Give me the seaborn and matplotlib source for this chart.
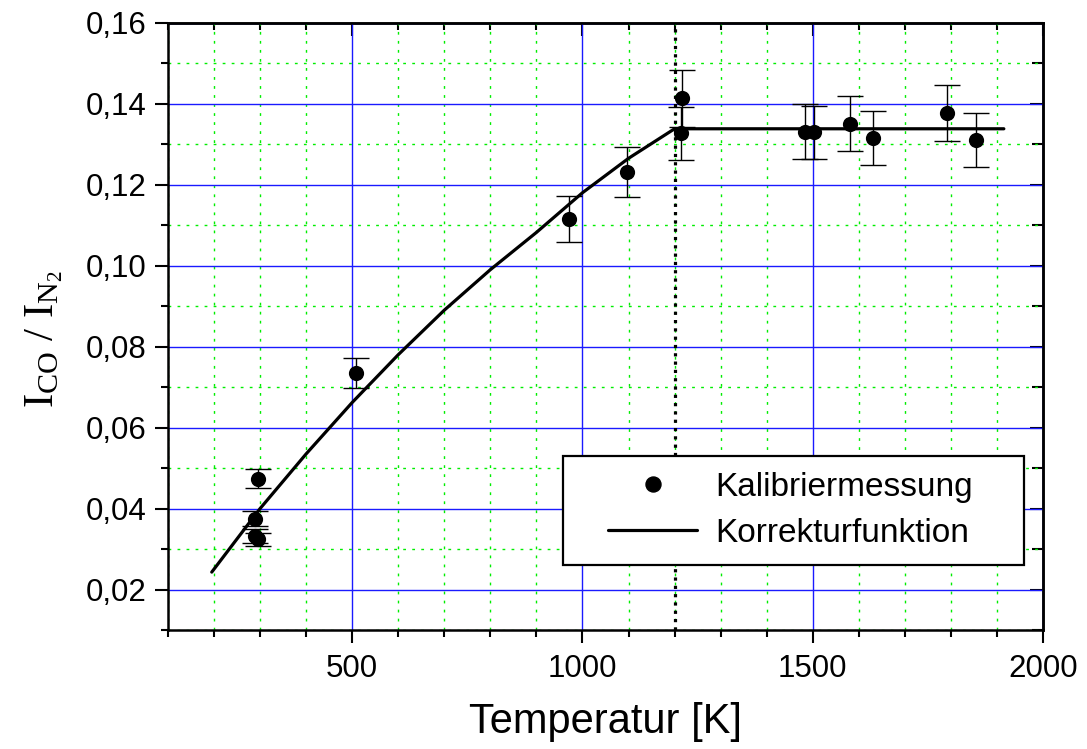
import matplotlib
matplotlib.use("Agg")
import matplotlib.pyplot as plt
from matplotlib.lines import Line2D
from matplotlib.legend_handler import HandlerLine2D
from matplotlib.ticker import MultipleLocator, FixedLocator, FixedFormatter
import seaborn as sns
import pandas as pd

# ---- data ----
temp_meas = [295, 289, 289, 295, 508, 970, 1097, 1216, 1213, 1484, 1503, 1580, 1630, 1791, 1854]
ratio_meas = [0.0474, 0.0375, 0.0333, 0.0324, 0.0735, 0.1115, 0.1231, 0.1413, 0.1327,
              0.1331, 0.1329, 0.1351, 0.1315, 0.1378, 0.1310]
ratio_err = [0.0024, 0.0019, 0.0017, 0.0016, 0.0037, 0.0056, 0.0062, 0.0071, 0.0066,
             0.0067, 0.0066, 0.0068, 0.0066, 0.0069, 0.0066]

temp_fit = [195, 300, 400, 500, 600, 700, 800, 900, 1000, 1100, 1200, 1915]
ratio_fit = [0.0243, 0.0400, 0.0535, 0.0662, 0.0780, 0.0890, 0.0990, 0.1082, 0.1180,
             0.1265, 0.1338, 0.1338]

t_switch = 1200

x_ticks = [500, 1000, 1500, 2000]
x_tick_labels = ["500", "1000", "1500", "2000"]
y_ticks = [0.02, 0.04, 0.06, 0.08, 0.10, 0.12, 0.14, 0.16]
y_tick_labels = ["0,02", "0,04", "0,06", "0,08", "0,10", "0,12", "0,14", "0,16"]

legend_labels = ["Kalibriermessung", "Korrekturfunktion"]
x_label = "Temperatur [K]"
y_label = r"$\mathrm{I_{CO}\ /\ I_{N_{2}}}$"

# ---- style ----
sns.set_theme(style="white")
plt.rcParams["font.family"] = ["Liberation Sans", "DejaVu Sans"]
plt.rcParams["mathtext.fontset"] = "custom"
plt.rcParams["mathtext.rm"] = "Liberation Serif"
plt.rcParams["mathtext.it"] = "Liberation Serif:italic"
plt.rcParams["mathtext.bf"] = "Liberation Serif:bold"
for key in ["text.color", "axes.labelcolor", "xtick.color", "ytick.color", "axes.edgecolor"]:
    plt.rcParams[key] = "black"

meas = pd.DataFrame({"T": temp_meas, "R": ratio_meas, "err": ratio_err})
fit = pd.DataFrame({"T": temp_fit, "R": ratio_fit})

fig = plt.figure(figsize=(10.87, 7.49), dpi=100)
ax = fig.add_axes([0.15455, 0.15888, 0.80497, 0.81081])

ax.set_xlim(100, 2000)
ax.set_ylim(0.01, 0.16)

# grid
ax.set_axisbelow(True)
ax.xaxis.set_major_locator(FixedLocator(x_ticks))
ax.xaxis.set_major_formatter(FixedFormatter(x_tick_labels))
ax.xaxis.set_minor_locator(MultipleLocator(100))
ax.yaxis.set_major_locator(FixedLocator(y_ticks))
ax.yaxis.set_major_formatter(FixedFormatter(y_tick_labels))
ax.yaxis.set_minor_locator(MultipleLocator(0.01))
ax.grid(which="major", color="#1a1aff", linewidth=1.0, linestyle="-")
ax.grid(which="minor", color="#00ee00", linewidth=1.0, linestyle=(0, (2, 4.5)))

# vertical dotted line
ax.axvline(t_switch, color="black", linewidth=2.3, linestyle=(0, (1.0, 1.6)), zorder=2)

# correction function
sns.lineplot(data=fit, x="T", y="R", ax=ax, color="black", linewidth=2.3,
             sort=False, estimator=None, zorder=3, legend=False)

# error bars + points
ax.errorbar(meas["T"], meas["R"], yerr=meas["err"], fmt="none", ecolor="black",
            elinewidth=1.0, capsize=9.4, capthick=1.0, zorder=4)
sns.scatterplot(data=meas, x="T", y="R", ax=ax, color="black", s=120,
                edgecolor="black", linewidth=0, zorder=5, legend=False)

# ticks
ax.tick_params(axis="both", which="major", direction="out", length=9.4, width=1.5,
               labelsize=22.5, color="black", labelcolor="black", bottom=True, left=True)
ax.tick_params(axis="both", which="minor", direction="out", length=5, width=1.5,
               color="black", bottom=True, left=True)
ax.tick_params(axis="x", which="major", pad=8)
ax.tick_params(axis="y", which="major", pad=6)

secx = ax.secondary_xaxis("top")
secx.xaxis.set_major_locator(FixedLocator(x_ticks))
secx.xaxis.set_minor_locator(MultipleLocator(100))
secx.tick_params(axis="x", which="major", direction="in", length=9.4, width=1.5, labeltop=False)
secx.tick_params(axis="x", which="minor", direction="in", length=5, width=1.5, labeltop=False)
secx.spines["top"].set_linewidth(1.8)

secy = ax.secondary_yaxis("right")
secy.yaxis.set_major_locator(FixedLocator(y_ticks))
secy.yaxis.set_minor_locator(MultipleLocator(0.01))
secy.tick_params(axis="y", which="major", direction="in", length=9.4, width=1.5, labelright=False)
secy.tick_params(axis="y", which="minor", direction="in", length=8, width=1.5, labelright=False)
secy.spines["right"].set_linewidth(1.8)

for sp in ax.spines.values():
    sp.set_visible(True)
    sp.set_color("black")
    sp.set_linewidth(1.8)

# labels
ax.set_xlabel(x_label, fontsize=30, color="black")
ax.xaxis.set_label_coords(0.5, -0.118)
ax.set_ylabel(y_label, fontsize=31, color="black")
ax.yaxis.set_label_coords(-0.118, 0.48)


# legend: handles pushed to the right inside their box
class OffsetHandler(HandlerLine2D):
    def __init__(self, offset, **kw):
        super().__init__(**kw)
        self.offset = offset

    def create_artists(self, legend, orig_handle, xdescent, ydescent, width, height,
                       fontsize, trans):
        return super().create_artists(legend, orig_handle, xdescent - self.offset, ydescent,
                                      width - self.offset, height, fontsize, trans)


handles = [
    Line2D([], [], marker="o", color="black", linestyle="none", markersize=10.8),
    Line2D([], [], color="black", linewidth=2.3),
]
hmap = {h: OffsetHandler(20.7) for h in handles}
leg = ax.legend(handles, legend_labels, loc="lower left", handler_map=hmap,
                bbox_to_anchor=(0.4518, 0.107, 0.526, 0.182), mode="expand",
                fontsize=24, frameon=True, fancybox=False, shadow=False,
                handlelength=3.53, handletextpad=0.54, borderpad=0.49,
                labelspacing=0.44, borderaxespad=0)
for t in leg.get_texts():
    t.set_color("black")
leg.get_frame().set_edgecolor("black")
leg.get_frame().set_linewidth(1.6)
leg.get_frame().set_facecolor("white")
leg.get_frame().set_alpha(1.0)
leg.set_zorder(10)

fig.savefig("out.png", dpi=100)
